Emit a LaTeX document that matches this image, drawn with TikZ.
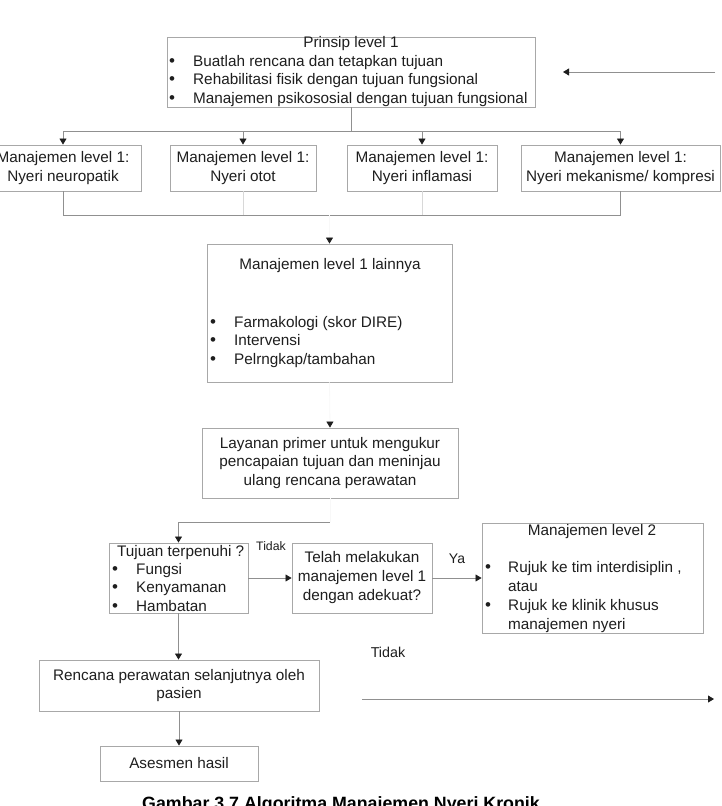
\documentclass[tikz,border=0pt]{standalone}
\usepackage{fontspec}
\setmainfont{Liberation Sans}
\usetikzlibrary{arrows.meta}
\definecolor{txt}{HTML}{1E1E1E}
\definecolor{boxc}{HTML}{A8A8A8}
\definecolor{linec}{HTML}{909090}
\definecolor{faint}{HTML}{D8D8D8}
\definecolor{ghost}{HTML}{F8F8F8}
\begin{document}
\begin{tikzpicture}[x=1pt,y=-1pt,
  every node/.style={font=\fontsize{15.3}{18.6}\selectfont, text=txt},
  box/.style={draw=boxc, line width=0.9pt, fill=white, inner sep=0pt, align=center},
  lbl/.style={anchor=mid west, inner sep=0pt, yshift=-1.5pt},
  ctr/.style={anchor=mid, inner sep=0pt, yshift=-1.5pt},
  bul/.style={anchor=mid, inner sep=0pt, yshift=-1.5pt, font=\fontsize{17}{18.6}\selectfont},
  conn/.style={draw=linec, line width=0.8pt},
  fconn/.style={draw=faint, line width=0.8pt},
  gconn/.style={draw=ghost, line width=0.8pt},
  tip/.style={-{Triangle[width=7pt,length=6pt,color=txt]}},
  small/.style={font=\fontsize{12.3}{14}\selectfont, inner sep=0pt, anchor=mid},
]
\useasboundingbox[fill=white] (0,0) rectangle (721,806);

% top box
\node[box, minimum width=368pt, minimum height=70pt] (top) at (351,72) {};
\node[ctr] (t0) at (351,43) {Prinsip level 1};
\node[bul] (tb1) at (172,62) {\textbullet};
\node[lbl] (tt1) at (193,62) {Buatlah rencana dan tetapkan tujuan};
\node[bul] (tb2) at (172,80) {\textbullet};
\node[lbl] (tt2) at (193,80) {Rehabilitasi fisik dengan tujuan fungsional};
\node[bul] (tb3) at (172,99) {\textbullet};
\node[lbl] (tt3) at (193,99) {Manajemen psikososial dengan tujuan fungsional};

\coordinate (ra) at (715,72);
\coordinate (rb) at (563,72);
\draw[conn,tip] (ra) -- (rb);

% four boxes
\node[box, minimum width=156pt, minimum height=46pt] (b1) at (63,168) {Manajemen level 1:\\Nyeri neuropatik};
\node[box, minimum width=146pt, minimum height=46pt] (b2) at (243,168) {Manajemen level 1:\\Nyeri otot};
\node[box, minimum width=150pt, minimum height=46pt] (b3) at (422,168) {Manajemen level 1:\\Nyeri inflamasi};
\node[box, minimum width=199pt, minimum height=46pt] (b4) at (620.5,168) {Manajemen level 1:\\Nyeri mekanisme/ kompresi};

\coordinate (j1) at (351,131);
\draw[conn] (top.south) -- (j1);
\draw[conn] (b1.north |- j1) -- (b4.north |- j1);
\foreach \b in {b1,b2,b3,b4} \draw[conn,tip] (\b.north |- j1) -- (\b.north);

% lainnya box
\node[box, minimum width=245pt, minimum height=138pt] (lain) at (329.5,313) {};
\node[ctr] (l0) at (330,265) {Manajemen level 1 lainnya};
\node[bul] (lb1) at (213,323) {\textbullet};
\node[lbl] (lt1) at (234,323) {Farmakologi (skor DIRE)};
\node[bul] (lb2) at (213,341) {\textbullet};
\node[lbl] (lt2) at (234,341) {Intervensi};
\node[bul] (lb3) at (213,360) {\textbullet};
\node[lbl] (lt3) at (234,360) {Pelrngkap/tambahan};

\coordinate (j2) at (330,215);
\draw[conn] (b1.south) -- (b1.south |- j2) -- (b4.south |- j2) -- (b4.south);
\draw[fconn] (b2.south) -- (b2.south |- j2);
\draw[fconn] (b3.south) -- (b3.south |- j2);
\draw[gconn,tip] (lain.north |- j2) -- (lain.north);

% layanan box
\node[box, minimum width=256pt, minimum height=70pt] (lay) at (330,463) {Layanan primer untuk mengukur\\pencapaian tujuan dan meninjau\\ulang rencana perawatan};
\draw[gconn,tip] (lain.south) -- (lay.north);

% tujuan box
\node[box, minimum width=139pt, minimum height=70pt] (tuj) at (178.5,578) {};
\node[lbl] (u0) at (117,552) {Tujuan terpenuhi ?};
\node[bul] (ub1) at (115,570) {\textbullet};
\node[lbl] (ut1) at (136,570) {Fungsi};
\node[bul] (ub2) at (115,588) {\textbullet};
\node[lbl] (ut2) at (136,588) {Kenyamanan};
\node[bul] (ub3) at (115,607) {\textbullet};
\node[lbl] (ut3) at (136,607) {Hambatan};

\coordinate (l1) at (330,522);
\draw[gconn] (lay.south) -- (l1);
\draw[conn,tip] (l1) -| (tuj.north);

% telah box
\node[box, minimum width=140pt, minimum height=70pt, font=\fontsize{15.3}{19}\selectfont] (tel) at (362,578) {Telah melakukan\\manajemen level 1\\dengan adekuat?};

% level 2 box
\node[box, minimum width=221pt, minimum height=110pt] (l2) at (592.5,578) {};
\node[ctr] (m0) at (592,531) {Manajemen level 2};
\node[bul] (mb1) at (488,568) {\textbullet};
\node[lbl] (mt1) at (508,568) {Rujuk ke tim interdisiplin ,};
\node[lbl] (mt2) at (508,587) {atau};
\node[bul] (mb2) at (488,606) {\textbullet};
\node[lbl] (mt3) at (508,606) {Rujuk ke klinik khusus};
\node[lbl] (mt4) at (508,625) {manajemen nyeri};

\draw[conn,tip] (tuj.east) -- (tel.west);
\draw[conn,tip] (tel.east) -- (l2.west);
\node[small] (tidak1) at (271,548) {Tidak};
\node[ctr, font=\fontsize{14}{16}\selectfont] (ya) at (457,559) {Ya};

% rencana and asesmen
\node[box, minimum width=280pt, minimum height=51pt] (ren) at (179,685.5) {Rencana perawatan selanjutnya oleh\\pasien};
\node[box, minimum width=158pt, minimum height=35pt] (ase) at (179,763.5) {Asesmen hasil};
\draw[conn,tip] (tuj.south) -- (tuj.south |- ren.north);
\draw[conn,tip] (ren.south) -- (ase.north);

\node[ctr, font=\fontsize{14.3}{16}\selectfont] (tidak2) at (388,653) {Tidak};
\coordinate (ta) at (362,699);
\coordinate (tb) at (714,699);
\draw[conn,tip] (ta) -- (tb);

% caption
\node[anchor=base west, inner sep=0pt, font=\fontsize{17.8}{20}\selectfont\bfseries, text=black] (cap) at (142,809.5) {Gambar 3.7 Algoritma  Manajemen Nyeri Kronik};
\end{tikzpicture}
\end{document}
